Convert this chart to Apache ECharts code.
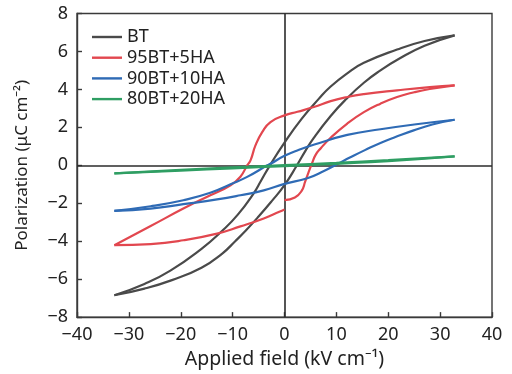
<!DOCTYPE html>
<html><head><meta charset="utf-8">
<script src="https://cdn.jsdelivr.net/npm/echarts@6/dist/echarts.min.js"></script>
<style>html,body{margin:0;padding:0;background:#fff}#c{width:512px;height:374px}</style>
</head><body><div id="c"></div>
<script>
// Tick values
var xTicks = [-40, -30, -20, -10, 0, 10, 20, 30, 40];
var yTicks = [-8, -6, -4, -2, 0, 2, 4, 6, 8];
var seriesNames = ['BT', '95BT+5HA', '90BT+10HA', '80BT+20HA'];
var seriesColors = ['#4a4a4a', '#e2474f', '#2f6bb5', '#2f9e63'];

// BT loop: descending (from +Emax) and ascending (from -Emax) branches, [E, P]
var btDesc = [[32.8,6.85],[27,6.55],[21.7,6.1],[15.3,5.4],[12.1,4.85],[8.9,4.15],[6.6,3.5],[3.3,2.45],[0,1.2],[-2.8,0],[-4.5,-0.8],[-6,-1.5],[-9,-2.6],[-12,-3.45],[-16,-4.4],[-22,-5.55],[-27,-6.25],[-32.8,-6.85]];
var btAsc = [[-32.8,-6.85],[-27,-6.5],[-21.7,-6.05],[-16,-5.4],[-12,-4.65],[-9.5,-4.0],[-7.5,-3.45],[-5,-2.7],[-2.5,-1.9],[0,-1.05],[2.4,0],[4,0.75],[5.65,1.45],[8.9,2.6],[11.75,3.45],[15.3,4.35],[18.5,5.0],[22,5.6],[27,6.3],[32.8,6.85]];

// 95BT+5HA loop
var r5Desc = [[32.8,4.21],[28,4.12],[21.7,3.95],[15.3,3.75],[12.1,3.6],[8.9,3.38],[5.65,3.07],[2.5,2.82],[0,2.63],[-2.7,2.28],[-4.3,1.75],[-5.6,1.05],[-6.55,0.26],[-7.2,0],[-8.5,-0.6],[-10.4,-1.05],[-14.3,-1.58],[-19.5,-2.28],[-25.8,-3.2],[-32.8,-4.21]];
var r5AscNeg = [[-32.8,-4.21],[-25.8,-4.15],[-19.5,-3.95],[-13,-3.6],[-8.5,-3.22],[-4,-2.8],[-1,-2.45],[0,-2.33]];
var r5AscPos = [[0,-1.84],[2,-1.7],[3.3,-1.35],[4,-0.85],[4.6,-0.4],[5.3,0.1],[6,0.55],[7,0.9],[8.9,1.45],[12.1,2.2],[15.3,2.8],[18.5,3.25],[21.7,3.6],[25,3.85],[28,4.02],[32.8,4.21]];

// 90BT+10HA loop
var b10Desc = [[32.8,2.4],[25,2.15],[18.5,1.9],[12.1,1.6],[5.6,1.08],[2.8,0.82],[0,0.5],[-2.7,0.08],[-3.3,0],[-7.2,-0.61],[-10.4,-1.0],[-14.3,-1.45],[-19.5,-1.84],[-25.8,-2.16],[-32.8,-2.4]];
var b10Asc = [[-32.8,-2.4],[-25.8,-2.28],[-19.5,-2.05],[-13,-1.8],[-8.5,-1.58],[-4,-1.32],[0,-0.98],[4.4,-0.68],[7.6,-0.3],[10.3,0.08],[12.7,0.42],[15.5,0.8],[18.5,1.18],[21.5,1.5],[24.9,1.84],[28.5,2.15],[32.8,2.4]];

// 80BT+20HA loop
var g20Desc = [[32.8,0.47],[20,0.27],[10,0.13],[0,0.01],[-10,-0.11],[-20,-0.24],[-32.8,-0.43]];
var g20Asc = [[-32.8,-0.43],[-20,-0.28],[-10,-0.16],[0,-0.04],[10,0.08],[20,0.22],[32.8,0.47]];

var branches = [
  [0, btDesc], [0, btAsc],
  [1, r5Desc], [1, r5AscNeg], [1, r5AscPos],
  [2, b10Desc], [2, b10Asc],
  [3, g20Desc], [3, g20Asc]
];

var FONT = '"Noto Sans", sans-serif';
function fmt(v){ return String(v).replace('-', '\u2212'); }

var series = branches.map(function(b, i){
  var s = {
    name: seriesNames[b[0]], type: 'line', data: b[1],
    smooth: 0.5, symbol: 'none', showSymbol: false,
    lineStyle: { color: seriesColors[b[0]], width: 2.2 },
    itemStyle: { color: seriesColors[b[0]] },
    z: 3 + b[0], animation: false
  };
  if (i === 0) {
    s.markLine = {
      silent: true, symbol: ['none','none'], label: {show:false},
      lineStyle: { color: '#2b2b2b', width: 1.6, type: 'solid' },
      data: [{ xAxis: 0 }, { yAxis: 0 }], z: 2
    };
  }
  return s;
});

var chart = echarts.init(document.getElementById('c'), null, {renderer: 'canvas'});
chart.setOption({
  animation: false,
  backgroundColor: '#fff',
  grid: { left: 77, right: 20, top: 13.5, bottom: 56, show: true, borderColor: '#3a3a3a', borderWidth: 1.4, backgroundColor: 'transparent' },
  legend: {
    data: seriesNames.map(function(n, k){ return { name: n, icon: 'rect', itemStyle: { color: seriesColors[k] } }; }),
    left: 87, top: 23, orient: 'vertical',
    itemWidth: 30, itemHeight: 2.4, itemGap: 2.7,
    textStyle: { fontFamily: FONT, fontSize: 18, color: '#222' }
  },
  xAxis: {
    type: 'value', min: -40, max: 40, interval: 10,
    name: 'Applied field (kV cm\u207B\u00B9)', nameLocation: 'middle', nameGap: 31,
    nameTextStyle: { fontFamily: FONT, fontSize: 19.5, color: '#222' },
    axisLine: { onZero: false, lineStyle: { color: '#3a3a3a', width: 1.4 } },
    axisTick: { inside: true, length: 5, lineStyle: { color: '#3a3a3a', width: 1.4 } },
    axisLabel: { fontFamily: FONT, fontSize: 18, color: '#222', margin: 9, formatter: fmt },
    splitLine: { show: false }
  },
  yAxis: {
    type: 'value', min: -8, max: 8, interval: 2,
    name: 'Polarization (\u03BCC cm\u207B\u00B2)', nameLocation: 'middle', nameGap: 46,
    nameTextStyle: { fontFamily: FONT, fontSize: 17, color: '#222' },
    axisLine: { onZero: false, lineStyle: { color: '#3a3a3a', width: 1.4 } },
    axisTick: { inside: true, length: 5, lineStyle: { color: '#3a3a3a', width: 1.4 } },
    axisLabel: { fontFamily: FONT, fontSize: 18, color: '#222', margin: 9, formatter: fmt },
    splitLine: { show: false }
  },
  series: series
});
</script></body></html>
